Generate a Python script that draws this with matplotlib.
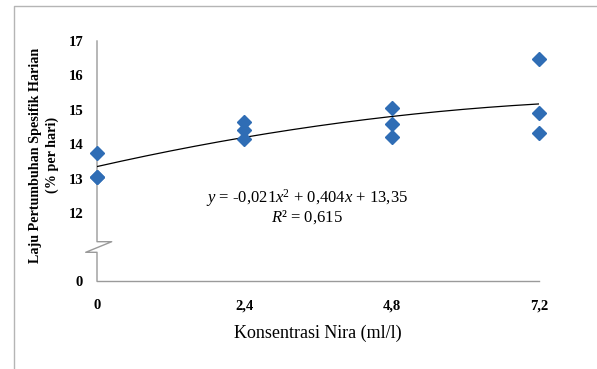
import numpy as np
import matplotlib
matplotlib.use("Agg")
import matplotlib.pyplot as plt
from matplotlib.transforms import blended_transform_factory
from matplotlib.lines import Line2D

plt.rcParams['font.family'] = ['Liberation Serif', 'DejaVu Serif']
plt.rcParams['mathtext.fontset'] = 'custom'
plt.rcParams['mathtext.rm'] = 'Liberation Serif'
plt.rcParams['mathtext.it'] = 'Liberation Serif:italic'
plt.rcParams['mathtext.bf'] = 'Liberation Serif:bold'

# ---- data ----
x_vals = [0, 0, 0, 2.4, 2.4, 2.4, 4.8, 4.8, 4.8, 7.2, 7.2, 7.2]
y_vals = [13.74, 13.06, 13.06, 14.64, 14.41, 14.14, 15.06, 14.58, 14.20, 16.48, 14.92, 14.34]
coef = [-0.021, 0.404, 13.35]
r2 = "0,615"
x_ticks = [0, 2.4, 4.8, 7.2]
x_ticklabels = ["0", "2,4", "4,8", "7,2"]
y_ticks = [0, 12, 13, 14, 15, 16, 17]
y_ticklabels = ["0", "12", "13", "14", "15", "16", "17"]
xlabel = "Konsentrasi Nira (ml/l)"
ylabel = "Laju Pertumbuhan Spesifik Harian\n(% per hari)"

W, H = 597, 369
fig = plt.figure(figsize=(W / 100, H / 100), dpi=100)

# axes in pixel positions
left_px, right_px, top_px, bot_px = 97, 539, 41, 281
ax = fig.add_axes([left_px / W, 1 - bot_px / H, (right_px - left_px) / W, (bot_px - top_px) / H])

px_per_unit = (213 - 41) / 5.0
y_bottom = 12 - (bot_px - 213) / px_per_unit


def ymap(v):
    return v if v >= 12 else y_bottom


ax.set_xlim(0, 7.2)
ax.set_ylim(y_bottom, 17)

blue = '#2f6db5'
ax.plot(x_vals, y_vals, linestyle='none', marker='D', markersize=7.5,
        color=blue, markeredgecolor=blue, clip_on=False, zorder=5)

xs = np.linspace(0, 7.2, 200)
ax.plot(xs, np.polyval(coef, xs), color='black', lw=0.9, zorder=4)

# ticks
ax.set_xticks(x_ticks)
ax.set_xticklabels(x_ticklabels, fontweight='bold', fontsize=10.5)
ax.set_yticks([ymap(v) for v in y_ticks])
ax.set_yticklabels(y_ticklabels, fontweight='bold', fontsize=10.5)
ax.tick_params(axis='both', length=0)
ax.tick_params(axis='y', pad=10)
ax.tick_params(axis='x', pad=13)

axis_color = '#9a9a9a'
for s in ['top', 'right', 'left']:
    ax.spines[s].set_visible(False)
ax.spines['bottom'].set_color(axis_color)
ax.spines['bottom'].set_linewidth(1.0)

# custom y axis with break
trans = blended_transform_factory(ax.transAxes, ax.transData)
axw = right_px - left_px
yb1 = 12 - (241.7 - 213) / px_per_unit
yb2 = 12 - (252.3 - 213) / px_per_unit
ax.plot([0, 0, 14.7 / axw, -11.3 / axw, 0, 0],
        [17, yb1, yb1, yb2, yb2, y_bottom],
        transform=trans, color=axis_color, lw=1.0, clip_on=False, zorder=3)

# equation text
fig.text(307 / W, 1 - 198 / H,
         r"$y$ = -0,021$x$$^{2}$ + 0,404$x$ + 13,35",
         ha='center', va='center', fontsize=12)
fig.text(307 / W, 1 - 217 / H, r"$R$² = " + r2,
         ha='center', va='center', fontsize=12)

# axis labels
fig.text(318 / W, 1 - 333 / H, xlabel, ha='center', va='center', fontsize=13)
fig.text(44 / W, 1 - 155 / H, ylabel, ha='center', va='center', fontsize=10.2,
         fontweight='bold', rotation=90, linespacing=1.4)

# outer border (left and top)
fig.add_artist(Line2D([14 / W, 14 / W, 596 / W], [0, 1 - 5.5 / H, 1 - 5.5 / H],
                      transform=fig.transFigure, color='#b5b5b5', lw=1.0))

fig.savefig('out.png', dpi=100)
